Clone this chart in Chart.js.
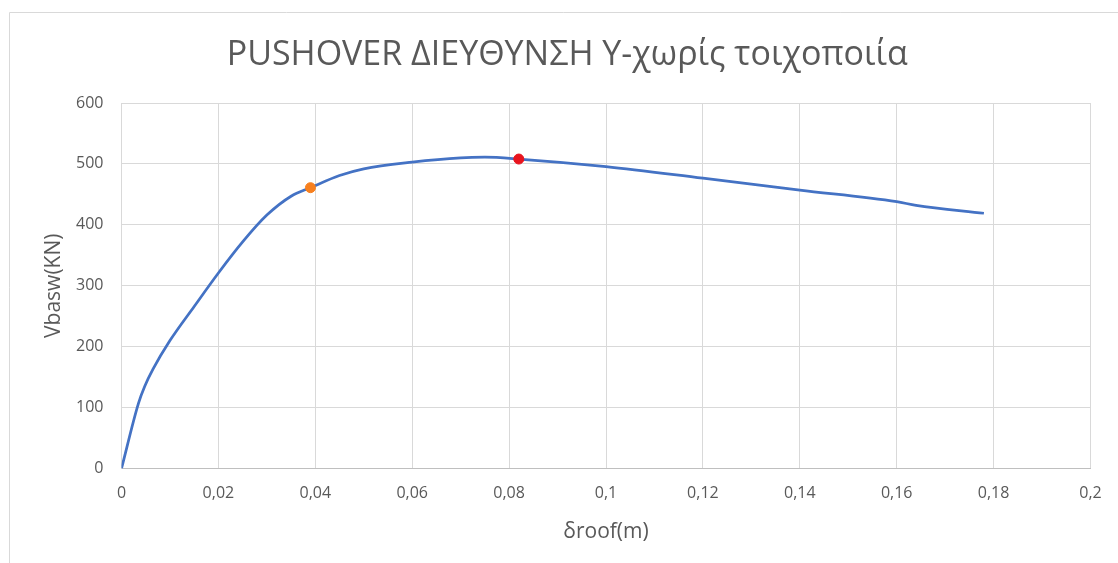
<!DOCTYPE html>
<html>
<head>
<meta charset="utf-8">
<script src="https://cdn.jsdelivr.net/npm/chart.js@4.4.1/dist/chart.umd.min.js"></script>
<style>
    body { margin: 0; background: #ffffff; }
    #wrap { width: 1118px; height: 563px; }
</style>
</head>
<body>
<div id="wrap"><canvas id="myChart" width="1118" height="563"></canvas></div>
<script>
// pushover curve
const delta = [0, 0.0035, 0.0048, 0.0065, 0.01, 0.015, 0.02, 0.025, 0.03, 0.035, 0.039,
    0.045, 0.05, 0.06, 0.07, 0.075, 0.082, 0.1, 0.12, 0.14, 0.16, 0.164, 0.178];
const vbase = [0, 107, 135, 163, 210, 266, 321, 372, 416, 447, 461,
    481, 492, 503, 510, 511, 508, 495.5, 476.5, 457, 438, 432, 419];

// the two marked points
const yieldPoint = [0.039, 461];
const peakPoint = [0.082, 508];

const xTickLabels = ['0', '0,02', '0,04', '0,06', '0,08', '0,1', '0,12', '0,14', '0,16', '0,18', '0,2'];
const yTickLabels = ['0', '100', '200', '300', '400', '500', '600'];

const textColor = '#595959';
const gridColor = '#d9d9d9';

const curve = delta.map((d, i) => ({ x: d, y: vbase[i] }));

// thin frame round the chart (top and left edges only)
const framePlugin = {
    id: 'frame',
    beforeDraw(chart) {
        const ctx = chart.ctx;
        ctx.save();
        ctx.strokeStyle = '#d9d9d9';
        ctx.lineWidth = 1;
        ctx.beginPath();
        ctx.moveTo(9.5, 563);
        ctx.lineTo(9.5, 12.5);
        ctx.lineTo(1118, 12.5);
        ctx.stroke();
        ctx.restore();
    }
};

const ctx = document.getElementById('myChart').getContext('2d');
new Chart(ctx, {
    type: 'scatter',
    data: {
        datasets: [{
            data: [{ x: yieldPoint[0], y: yieldPoint[1] }],
            pointBackgroundColor: '#f7801f',
            pointBorderColor: '#f7801f',
            pointRadius: 5,
            showLine: false
        }, {
            data: [{ x: peakPoint[0], y: peakPoint[1] }],
            pointBackgroundColor: '#e8141e',
            pointBorderColor: '#e8141e',
            pointRadius: 5,
            showLine: false
        }, {
            data: curve,
            showLine: true,
            borderColor: '#4472c4',
            borderWidth: 2.75,
            pointRadius: 0,
            cubicInterpolationMode: 'monotone',
            fill: false
        }]
    },
    options: {
        responsive: false,
        animation: false,
        layout: {
            // left padding pushes the title centre over to where it sits in the original
            padding: { left: 44, right: 27.5, top: 0, bottom: 0 }
        },
        plugins: {
            legend: { display: false },
            tooltip: { enabled: false },
            title: {
                display: true,
                text: 'PUSHOVER ΔΙΕΥΘΥΝΣΗ Y-χωρίς τοιχοποιία',
                color: textColor,
                font: { family: 'Open Sans', size: 34, weight: 'normal' },
                padding: { top: 35, bottom: 27.2 }
            }
        },
        scales: {
            x: {
                type: 'linear',
                min: 0,
                max: 0.2,
                afterFit: scale => { scale.height = 94.5; },
                ticks: {
                    stepSize: 0.02,
                    color: textColor,
                    padding: 15,
                    font: { family: 'Open Sans', size: 16 },
                    callback: (value, index) => xTickLabels[index]
                },
                grid: { color: gridColor, drawTicks: false },
                border: { color: '#bfbfbf' },
                title: {
                    display: true,
                    text: 'δroof(m)',
                    color: textColor,
                    font: { family: 'Open Sans', size: 21 },
                    padding: { top: 0, bottom: 18.5 }
                }
            },
            y: {
                min: 0,
                max: 600,
                afterFit: scale => { scale.width = 77.5; },
                ticks: {
                    stepSize: 100,
                    color: textColor,
                    padding: 18,
                    font: { family: 'Open Sans', size: 16 },
                    callback: (value, index) => yTickLabels[index]
                },
                grid: { color: gridColor, drawTicks: false },
                border: { color: gridColor },
                title: {
                    display: true,
                    text: 'Vbasw(KN)',
                    color: textColor,
                    font: { family: 'Open Sans', size: 21 },
                    padding: { top: -2.6, bottom: 0 }
                }
            }
        }
    },
    plugins: [framePlugin]
});
</script>
</body>
</html>
